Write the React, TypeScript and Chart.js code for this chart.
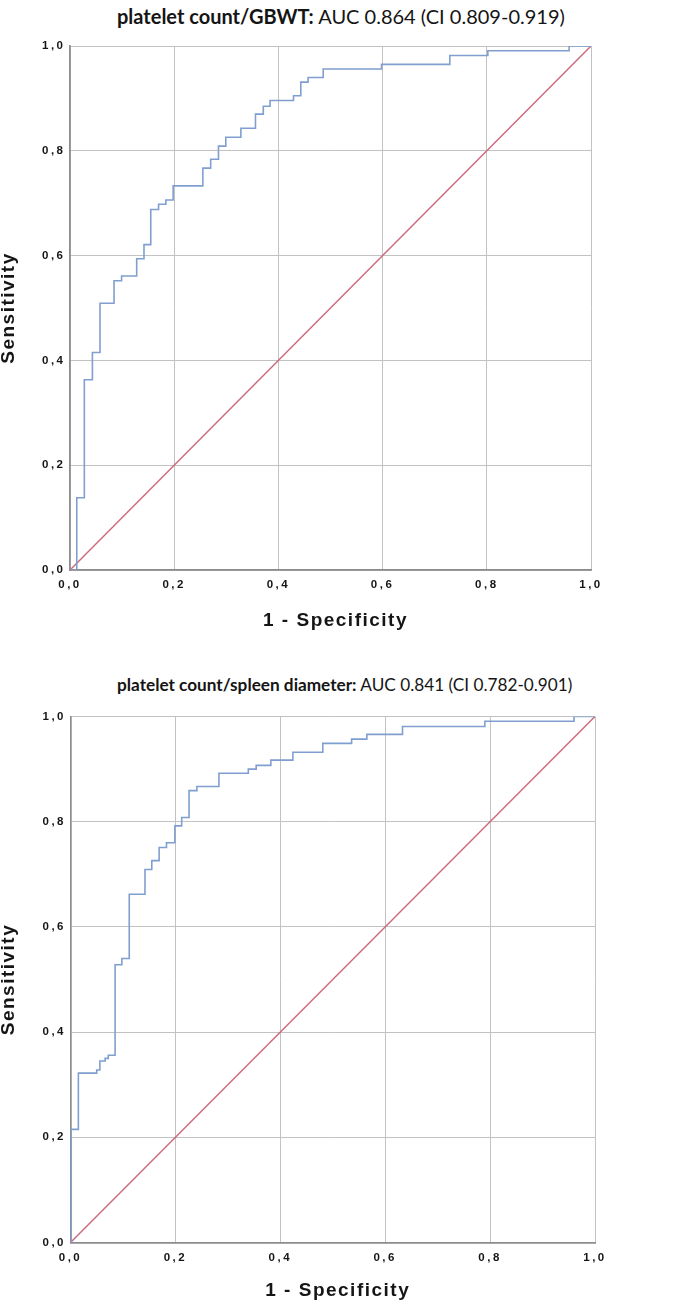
import React, { useEffect, useRef } from "react";
import { Chart, registerables } from "chart.js";

Chart.register(...registerables);

// ---------- data ----------
const titleTopBold = "platelet count/GBWT:";
const titleTopRest = " AUC 0.864 (CI 0.809-0.919)";
const titleBotBold = "platelet count/spleen diameter:";
const titleBotRest = " AUC 0.841 (CI 0.782-0.901)";

const xAxisTitle = "1 - Specificity";
const yAxisTitle = "Sensitivity";

const tickValues = [0, 0.2, 0.4, 0.6, 0.8, 1.0];

// ROC 1: platelet count / GBWT  (1 - specificity, sensitivity) at each step
const fprTop = [0, 0.013, 0.0275, 0.043, 0.0576, 0.0845, 0.099, 0.128, 0.142, 0.155, 0.170, 0.184, 0.198, 0.255, 0.270, 0.285, 0.299, 0.328, 0.356, 0.371, 0.384, 0.429, 0.443, 0.457, 0.486, 0.598, 0.729, 0.802, 0.958, 1.0];
const tprTop = [0, 0.138, 0.363, 0.415, 0.509, 0.552, 0.561, 0.594, 0.621, 0.688, 0.698, 0.706, 0.733, 0.767, 0.784, 0.809, 0.826, 0.843, 0.870, 0.885, 0.896, 0.905, 0.931, 0.940, 0.956, 0.965, 0.982, 0.991, 1.0, 1.0];

// ROC 2: platelet count / spleen diameter
const fprBot = [0, 0.001, 0.015, 0.05, 0.056, 0.066, 0.072, 0.085, 0.098, 0.112, 0.142, 0.155, 0.169, 0.183, 0.199, 0.212, 0.226, 0.241, 0.283, 0.339, 0.354, 0.382, 0.424, 0.481, 0.536, 0.565, 0.633, 0.790, 0.960, 1.0];
const tprBot = [0, 0.215, 0.322, 0.328, 0.345, 0.350, 0.356, 0.528, 0.540, 0.662, 0.709, 0.726, 0.751, 0.760, 0.792, 0.808, 0.859, 0.867, 0.892, 0.900, 0.907, 0.917, 0.932, 0.949, 0.957, 0.966, 0.981, 0.991, 1.0, 1.0];

// reference diagonal
const diagX = [0, 1];
const diagY = [0, 1];

// ---------- styles ----------
const ROC_COLOR = "#809fd0";
const DIAG_COLOR = "#cd6b7e";
const GRID_COLOR = "#c2c2c2";
const AXIS_COLOR = "#8c8c8c";
const TEXT_COLOR = "#151515";

const fmt = (v: number) => v.toFixed(1).replace(".", ",");

const axisTitlePlugin = {
  id: "axisTitles",
  beforeDraw(chart: any) {
    try {
      (chart.ctx as any).letterSpacing = "2.5px";
    } catch (e) {}
  },
  afterDraw(chart: any, _args: any, opts: any) {
    const { ctx, chartArea } = chart;
    ctx.save();
    ctx.fillStyle = TEXT_COLOR;
    ctx.font = 'bold 19px "Liberation Sans", Arial, sans-serif';
    try {
      (ctx as any).letterSpacing = "1.5px";
    } catch (e) {}
    ctx.textAlign = "center";
    ctx.textBaseline = "middle";
    const cx = (chartArea.left + chartArea.right) / 2 + (opts.xShift || 0);
    ctx.fillText(opts.xText, cx, chartArea.bottom + opts.xOffset);
    ctx.translate(opts.yX, (chartArea.top + chartArea.bottom) / 2);
    ctx.rotate(-Math.PI / 2);
    ctx.fillText(opts.yText, 0, 0);
    ctx.restore();
    try {
      (ctx as any).letterSpacing = "0px";
    } catch (e) {}
  },
};

type RocProps = {
  fpr: number[];
  tpr: number[];
  width: number;
  height: number;
  padTop: number;
  padRight: number;
  yWidth: number;
  xHeight: number;
  xTitleOffset: number;
};

function RocChart(props: RocProps) {
  const ref = useRef<HTMLCanvasElement | null>(null);
  useEffect(() => {
    if (!ref.current) return;
    const tickFont = { family: '"Liberation Sans", Arial, sans-serif', weight: "bold" as const, size: 11.5 };
    const chart = new Chart(ref.current, {
      type: "scatter",
      data: {
        datasets: [
          {
            label: "ROC",
            data: props.fpr.map((x, i) => ({ x, y: props.tpr[i] })),
            showLine: true,
            stepped: "before",
            borderColor: ROC_COLOR,
            borderWidth: 1.6,
            pointRadius: 0,
            fill: false,
          },
          {
            label: "Reference",
            data: diagX.map((x, i) => ({ x, y: diagY[i] })),
            showLine: true,
            borderColor: DIAG_COLOR,
            borderWidth: 1.5,
            pointRadius: 0,
            fill: false,
          },
        ],
      },
      options: {
        animation: false,
        responsive: false,
        devicePixelRatio: 1,
        layout: { padding: { top: props.padTop, right: props.padRight, left: 0, bottom: 0 } },
        plugins: {
          legend: { display: false },
          tooltip: { enabled: false },
          axisTitles: { xText: xAxisTitle, yText: yAxisTitle, xOffset: props.xTitleOffset, yX: 9, xShift: 5 },
        } as any,
        scales: {
          x: {
            type: "linear",
            min: 0,
            max: 1,
            afterBuildTicks: (s: any) => {
              s.ticks = tickValues.map((v) => ({ value: v }));
            },
            afterFit: (s: any) => {
              s.height = props.xHeight;
            },
            ticks: { callback: (v: any) => fmt(Number(v)), font: tickFont, color: TEXT_COLOR, padding: 8, maxRotation: 0 },
            grid: { color: GRID_COLOR, lineWidth: 1, drawTicks: false },
            border: { color: AXIS_COLOR, width: 1.7 },
          },
          y: {
            type: "linear",
            min: 0,
            max: 1,
            afterBuildTicks: (s: any) => {
              s.ticks = tickValues.map((v) => ({ value: v }));
            },
            afterFit: (s: any) => {
              s.width = props.yWidth;
            },
            ticks: { callback: (v: any) => fmt(Number(v)), font: tickFont, color: TEXT_COLOR, padding: 4.5 },
            grid: { color: GRID_COLOR, lineWidth: 1, drawTicks: false },
            border: { color: AXIS_COLOR, width: 1.7 },
          },
        },
      } as any,
      plugins: [axisTitlePlugin],
    });
    return () => chart.destroy();
  }, []);
  return <canvas ref={ref} width={props.width} height={props.height} style={{ display: "block", width: props.width, height: props.height }} />;
}

const titleStyle: React.CSSProperties = {
  position: "absolute",
  left: 117,
  whiteSpace: "nowrap",
  fontFamily: "Lato, 'Open Sans', sans-serif",
  color: TEXT_COLOR,
  lineHeight: "24px",
};

export default function App() {
  return (
    <div style={{ position: "absolute", left: 0, top: 0, width: 685, height: 1312, background: "#fff", overflow: "hidden" }}>
      <div style={{ ...titleStyle, top: 4, fontSize: 20 }}>
        <b>{titleTopBold}</b>
        {titleTopRest}
      </div>
      <div style={{ position: "absolute", left: 0, top: 30 }}>
        <RocChart fpr={fprTop} tpr={tprTop} width={685} height={620} padTop={16} padRight={94} yWidth={70} xHeight={80} xTitleOffset={51} />
      </div>
      <div style={{ ...titleStyle, top: 673, fontSize: 17.2 }}>
        <b>{titleBotBold}</b>
        {titleBotRest}
      </div>
      <div style={{ position: "absolute", left: 0, top: 700 }}>
        <RocChart fpr={fprBot} tpr={tprBot} width={685} height={612} padTop={16.5} padRight={90} yWidth={70.5} xHeight={69.5} xTitleOffset={48} />
      </div>
    </div>
  );
}
